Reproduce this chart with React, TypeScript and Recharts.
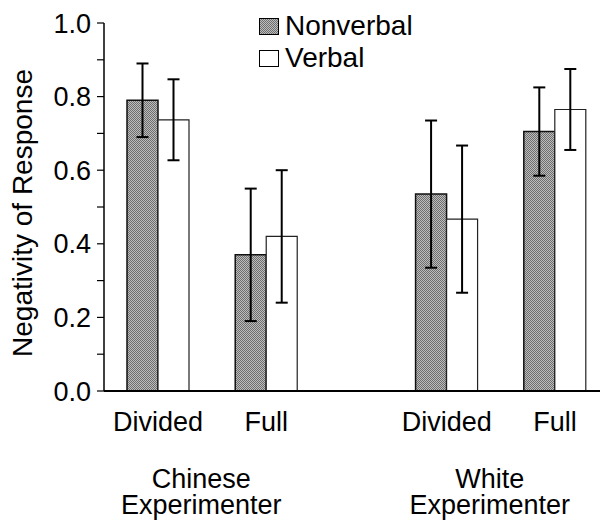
import React from "react";
import {
  BarChart,
  Bar,
  XAxis,
  YAxis,
  ErrorBar,
  Legend,
} from "recharts";

const groupNames = ["Chinese", "White"];
const conditions = ["Divided", "Full"];
const nonverbal = [0.79, 0.37, 0.535, 0.705];
const nonverbalErr = [0.1, 0.18, 0.2, 0.12];
const verbal = [0.737, 0.42, 0.467, 0.765];
const verbalErr = [0.11, 0.18, 0.2, 0.11];
const yTicks = [0, 0.1, 0.2, 0.3, 0.4, 0.5, 0.6, 0.7, 0.8, 0.9, 1.0];

const FONT = '"Liberation Sans", Arial, Helvetica, sans-serif';
const GROUP_STEP = 8;
const COND_STEP = 3;
const X_DOMAIN: [number, number] = [-1.5, 12.25];

const rows = groupNames.flatMap((g, gi) =>
  conditions.map((c, ci) => {
    const i = gi * conditions.length + ci;
    return {
      pos: gi * GROUP_STEP + ci * COND_STEP,
      cond: c,
      nonverbal: nonverbal[i],
      nonverbalErr: nonverbalErr[i],
      verbal: verbal[i],
      verbalErr: verbalErr[i],
    };
  })
);

const groupTicks = groupNames.map((_, gi) => gi * GROUP_STEP + COND_STEP / 2);

const stipple =
  "repeating-conic-gradient(#6e6e6e 0 25%, #bdbdbd 0 50%) 0 0 / 2px 2px";

function LegendBox() {
  const items = [
    { name: "Nonverbal", bg: stipple },
    { name: "Verbal", bg: "#fff" },
  ];
  return (
    <div style={{ fontFamily: FONT, fontSize: 28, color: "#000" }}>
      {items.map((it) => (
        <div
          key={it.name}
          style={{ display: "flex", alignItems: "center", height: 32 }}
        >
          <span
            style={{
              display: "inline-block",
              width: 18,
              height: 15,
              border: "1.5px solid #000",
              background: it.bg,
            }}
          />
          <span style={{ marginLeft: 6, lineHeight: 1 }}>{it.name}</span>
        </div>
      ))}
    </div>
  );
}

function GroupTick(props: any) {
  const { x, y, payload } = props;
  const idx = groupTicks.indexOf(payload.value);
  const name = groupNames[idx] ?? "";
  const cx = x - 11;
  return (
    <text
      x={cx}
      y={y}
      textAnchor="middle"
      fontFamily={FONT}
      fontSize={27}
      fill="#000"
    >
      <tspan x={cx} dy={37}>
        {name}
      </tspan>
      <tspan x={cx} dy={26}>
        Experimenter
      </tspan>
    </text>
  );
}

function YLabel(props: any) {
  const { viewBox } = props;
  const cy = viewBox.y + viewBox.height / 2 + 6;
  const cx = 32;
  return (
    <text
      x={cx}
      y={cy}
      transform={`rotate(-90, ${cx}, ${cy})`}
      textAnchor="middle"
      fontFamily={FONT}
      fontSize={28}
      fill="#000"
    >
      Negativity of Response
    </text>
  );
}

export default function App() {
  return (
    <div style={{ width: 600, height: 523, background: "#fff" }}>
      <style>{"body{margin:0}"}</style>
      <BarChart
        width={600}
        height={523}
        data={rows}
        margin={{ top: 23, right: 0, left: 0, bottom: 0 }}
        barGap={0}
        style={{ fontFamily: FONT }}
      >
        <XAxis
          dataKey="pos"
          type="number"
          domain={X_DOMAIN}
          allowDataOverflow
          ticks={rows.map((r) => r.pos)}
          interval={0}
          tickFormatter={(v) => rows.find((r) => r.pos === v)?.cond ?? ""}
          tick={{ fill: "#000", fontSize: 27, fontFamily: FONT }}
          tickLine={false}
          tickSize={0}
          tickMargin={21}
          axisLine={{ stroke: "#000", strokeWidth: 2 }}
          height={60}
        />
        <XAxis
          xAxisId="grp"
          dataKey="pos"
          type="number"
          domain={X_DOMAIN}
          allowDataOverflow
          ticks={groupTicks}
          interval={0}
          tick={<GroupTick />}
          tickLine={false}
          tickSize={0}
          tickMargin={0}
          axisLine={false}
          height={72}
        />
        <YAxis
          type="number"
          domain={[0, 1]}
          ticks={yTicks}
          interval={0}
          width={104}
          tickFormatter={(v) =>
            Math.round(v * 10) % 2 === 0 ? Number(v).toFixed(1) : ""
          }
          tick={{ fill: "#000", fontSize: 27, fontFamily: FONT }}
          tickSize={7}
          tickMargin={6}
          tickLine={{ stroke: "#000", strokeWidth: 1.2 }}
          axisLine={{ stroke: "#000", strokeWidth: 1.5 }}
          label={(p: any) => <YLabel {...p} />}
        />
        <Legend
          layout="vertical"
          verticalAlign="middle"
          align="center"
          wrapperStyle={{ top: 10, left: 259, width: "auto" }}
          content={() => <LegendBox />}
        />
        <defs>
          <pattern
            id="stipple"
            width="2"
            height="2"
            patternUnits="userSpaceOnUse"
          >
            <rect width="2" height="2" fill="#bdbdbd" />
            <rect width="1" height="1" fill="#6e6e6e" />
            <rect x="1" y="1" width="1" height="1" fill="#6e6e6e" />
          </pattern>
        </defs>
        <Bar
          dataKey="nonverbal"
          name="Nonverbal"
          fill="url(#stipple)"
          stroke="#111"
          strokeWidth={1.5}
          barSize={31}
          isAnimationActive={false}
        >
          <ErrorBar
            dataKey="nonverbalErr"
            width={6}
            stroke="#000"
            strokeWidth={2}
            isAnimationActive={false}
          />
        </Bar>
        <Bar
          dataKey="verbal"
          name="Verbal"
          fill="#fff"
          stroke="#222"
          strokeWidth={1.2}
          barSize={31}
          isAnimationActive={false}
        >
          <ErrorBar
            dataKey="verbalErr"
            width={6}
            stroke="#000"
            strokeWidth={2}
            isAnimationActive={false}
          />
        </Bar>
      </BarChart>
    </div>
  );
}
